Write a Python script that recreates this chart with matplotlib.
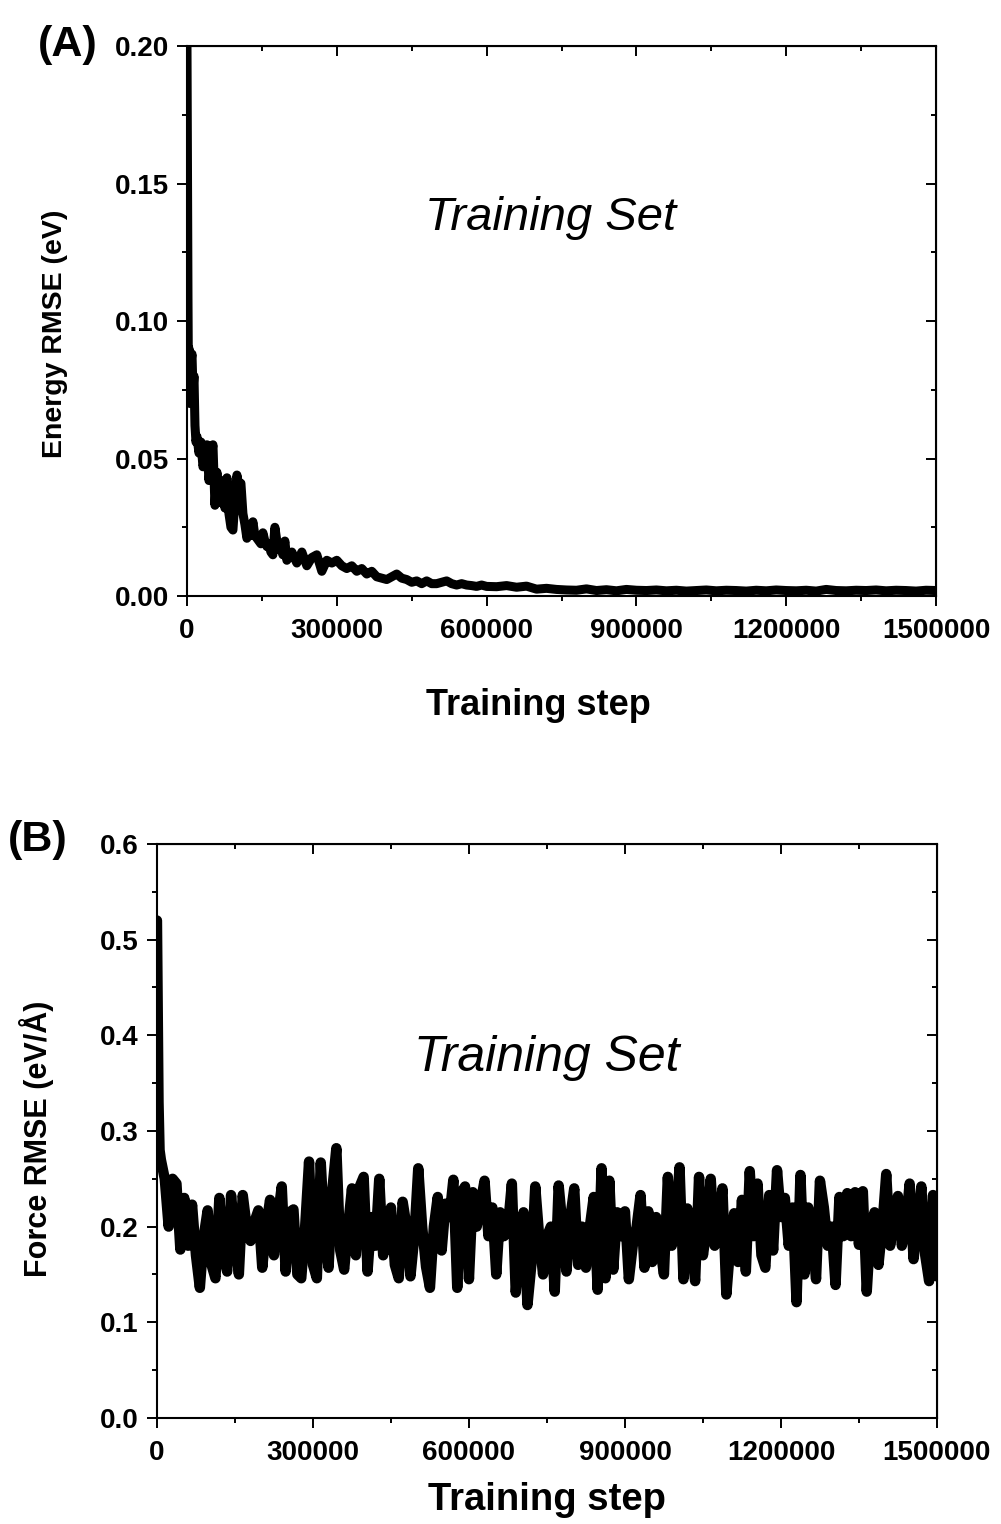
import numpy as np
import matplotlib
matplotlib.use("Agg")
import matplotlib.pyplot as plt
from matplotlib.ticker import MultipleLocator, FormatStrFormatter

plt.rcParams['font.family'] = ['Liberation Sans', 'DejaVu Sans']

# === Panel A: energy RMSE (eV) vs training step ===
energy_steps_early = [0, 1000, 2000, 3000, 4000, 6000, 8000, 10000, 12000, 14000, 16000, 18000, 20000]
energy_early = [0.200, 0.150, 0.108, 0.075, 0.090, 0.070, 0.085, 0.088, 0.075, 0.080, 0.062, 0.056, 0.058]

# every 4000 steps from 24000 to 200000
energy_a = [0.052, 0.056, 0.047, 0.050, 0.055, 0.042, 0.050, 0.055, 0.033, 0.045,
            0.034, 0.042, 0.038, 0.032, 0.043, 0.030, 0.025, 0.024, 0.035, 0.044,
            0.040, 0.041, 0.030, 0.026, 0.021, 0.024, 0.022, 0.027, 0.022, 0.021,
            0.020, 0.019, 0.023, 0.020, 0.018, 0.019, 0.016, 0.015, 0.025, 0.020,
            0.017, 0.018, 0.015, 0.020, 0.013]
# every 10000 steps from 210000 to 590000
energy_mid = [0.016, 0.012, 0.016, 0.011, 0.014, 0.015, 0.009, 0.013, 0.012, 0.013,
              0.011, 0.010, 0.011, 0.009, 0.010, 0.008, 0.009, 0.007, 0.0065, 0.006,
              0.007, 0.008, 0.0065, 0.006, 0.005, 0.0055, 0.0045, 0.0055, 0.0045, 0.0045,
              0.005, 0.0055, 0.0045, 0.004, 0.0045, 0.004, 0.0038, 0.0035, 0.004]
# every 20000 steps from 600000 to 1500000
energy_late = [0.0035, 0.0034, 0.0038, 0.0032, 0.0036, 0.0025, 0.0028, 0.0024, 0.0022, 0.0021,
               0.0026, 0.0020, 0.0023, 0.0019, 0.0024, 0.0021, 0.0020, 0.0022, 0.0019, 0.0021,
               0.0018, 0.0020, 0.0022, 0.0019, 0.0021, 0.0020, 0.0018, 0.0021, 0.0019, 0.0022,
               0.0020, 0.0019, 0.0021, 0.0018, 0.0024, 0.0020, 0.0019, 0.0021, 0.0020, 0.0022,
               0.0019, 0.0021, 0.0020, 0.0018, 0.0021, 0.0020]

# === Panel B: force RMSE (eV/A) vs training step ===
force_steps_early = [0, 1500, 3000, 5000]
force_early = [0.52, 0.42, 0.33, 0.28]
# every 7500 steps from 7500 to 1500000
force_vals = [0.27, 0.25, 0.20, 0.25, 0.245, 0.176, 0.23, 0.18, 0.223, 0.17,
              0.136, 0.19, 0.217, 0.16, 0.146, 0.23, 0.17, 0.153, 0.233, 0.19,
              0.15, 0.233, 0.20, 0.185, 0.205, 0.217, 0.157, 0.20, 0.228, 0.17,
              0.21, 0.242, 0.153, 0.215, 0.218, 0.15, 0.146, 0.20, 0.268, 0.16,
              0.146, 0.267, 0.19, 0.157, 0.24, 0.282, 0.175, 0.155, 0.20, 0.24,
              0.17, 0.242, 0.252, 0.153, 0.21, 0.18, 0.25, 0.17, 0.19, 0.22,
              0.16, 0.146, 0.226, 0.20, 0.148, 0.19, 0.261, 0.20, 0.158, 0.136,
              0.20, 0.231, 0.175, 0.224, 0.21, 0.249, 0.136, 0.235, 0.242, 0.145,
              0.236, 0.20, 0.225, 0.248, 0.19, 0.22, 0.15, 0.215, 0.19, 0.20,
              0.245, 0.131, 0.18, 0.215, 0.118, 0.16, 0.242, 0.19, 0.15, 0.19,
              0.20, 0.132, 0.243, 0.20, 0.153, 0.21, 0.24, 0.16, 0.20, 0.157,
              0.20, 0.231, 0.134, 0.261, 0.146, 0.248, 0.155, 0.215, 0.19, 0.216,
              0.145, 0.18, 0.20, 0.233, 0.157, 0.216, 0.163, 0.21, 0.18, 0.15,
              0.252, 0.18, 0.20, 0.262, 0.145, 0.219, 0.18, 0.143, 0.252, 0.17,
              0.20, 0.25, 0.18, 0.20, 0.24, 0.129, 0.18, 0.214, 0.163, 0.228,
              0.153, 0.258, 0.19, 0.245, 0.17, 0.157, 0.233, 0.175, 0.259, 0.21,
              0.23, 0.18, 0.22, 0.121, 0.254, 0.15, 0.22, 0.19, 0.145, 0.248,
              0.22, 0.18, 0.20, 0.139, 0.231, 0.19, 0.235, 0.19, 0.236, 0.181,
              0.237, 0.132, 0.20, 0.215, 0.16, 0.20, 0.255, 0.18, 0.21, 0.232,
              0.18, 0.20, 0.245, 0.166, 0.20, 0.242, 0.17, 0.143, 0.233, 0.148]

energy_steps = np.concatenate([energy_steps_early,
                               np.arange(24000, 200001, 4000),
                               np.arange(210000, 590001, 10000),
                               np.arange(600000, 1500001, 20000)])
energy = np.concatenate([energy_early, energy_a, energy_mid, energy_late])

force_steps = np.concatenate([force_steps_early, np.arange(7500, 1500001, 7500)])
force = np.concatenate([force_early, force_vals])

fig = plt.figure(figsize=(10.01, 15.24), dpi=100)
axA = fig.add_axes([0.1868, 0.6089, 0.7483, 0.3609])
axB = fig.add_axes([0.1568, 0.0696, 0.7792, 0.3766])


def style(ax, ymax, ymajor, yminor, yfmt):
    ax.set_xlim(0, 1500000)
    ax.set_ylim(0, ymax)
    ax.xaxis.set_major_locator(MultipleLocator(300000))
    ax.xaxis.set_minor_locator(MultipleLocator(150000))
    ax.yaxis.set_major_locator(MultipleLocator(ymajor))
    ax.yaxis.set_minor_locator(MultipleLocator(yminor))
    ax.yaxis.set_major_formatter(FormatStrFormatter(yfmt))
    ax.xaxis.set_major_formatter(FormatStrFormatter('%d'))
    for s in ax.spines.values():
        s.set_linewidth(1.5)
    ax.tick_params(which='both', direction='out', top=False, right=False, width=1.4)
    ax.tick_params(which='major', length=7)
    ax.tick_params(which='minor', length=3.5)
    ax.tick_params(axis='x', which='major', pad=9)
    ax.tick_params(axis='y', which='major', pad=6)
    for lab in ax.get_xticklabels() + ax.get_yticklabels():
        lab.set_fontweight('bold')
        lab.set_fontsize(20)
        lab.set_clip_on(False)
    # inward ticks on top and right
    sec_x = ax.secondary_xaxis('top')
    sec_x.xaxis.set_major_locator(MultipleLocator(300000))
    sec_x.xaxis.set_minor_locator(MultipleLocator(150000))
    sec_x.tick_params(which='both', direction='in', labeltop=False, width=1.4)
    sec_x.tick_params(which='major', length=7)
    sec_x.tick_params(which='minor', length=3.5)
    sec_y = ax.secondary_yaxis('right')
    sec_y.yaxis.set_major_locator(MultipleLocator(ymajor))
    sec_y.yaxis.set_minor_locator(MultipleLocator(yminor))
    sec_y.tick_params(which='both', direction='in', labelright=False, width=1.4)
    sec_y.tick_params(which='major', length=7)
    sec_y.tick_params(which='minor', length=3.5)


axA.plot(energy_steps, energy, color='black', lw=6.5, solid_joinstyle='round', solid_capstyle='round')
style(axA, 0.2, 0.05, 0.025, '%.2f')
axA.text(0.485, 0.687, 'Training Set', transform=axA.transAxes, ha='center', va='center',
         fontsize=34, style='italic')

axB.plot(force_steps, force, color='black', lw=7.5, solid_joinstyle='round', solid_capstyle='round')
style(axB, 0.6, 0.1, 0.05, '%.1f')
axB.text(0.5, 0.627, 'Training Set', transform=axB.transAxes, ha='center', va='center',
         fontsize=36, style='italic')

fig.text(538 / 1001, 1 - 705 / 1524, 'Training step', ha='center', va='center',
         fontsize=26, fontweight='bold')
fig.text(547 / 1001, 1 - 1500 / 1524, 'Training step', ha='center', va='center',
         fontsize=27.5, fontweight='bold')
fig.text(55 / 1001, 1 - 334 / 1524, 'Energy RMSE (eV)', ha='center', va='center',
         rotation=90, fontsize=20.5, fontweight='bold')
fig.text(37 / 1001, 1 - 1139 / 1524, 'Force RMSE (eV/Å)', ha='center', va='center',
         rotation=90, fontsize=22, fontweight='bold')
fig.text(68 / 1001, 1 - 45 / 1524, '(A)', ha='center', va='center', fontsize=31, fontweight='bold')
fig.text(38 / 1001, 1 - 840 / 1524, '(B)', ha='center', va='center', fontsize=31, fontweight='bold')

fig.savefig('out.png', dpi=100)
